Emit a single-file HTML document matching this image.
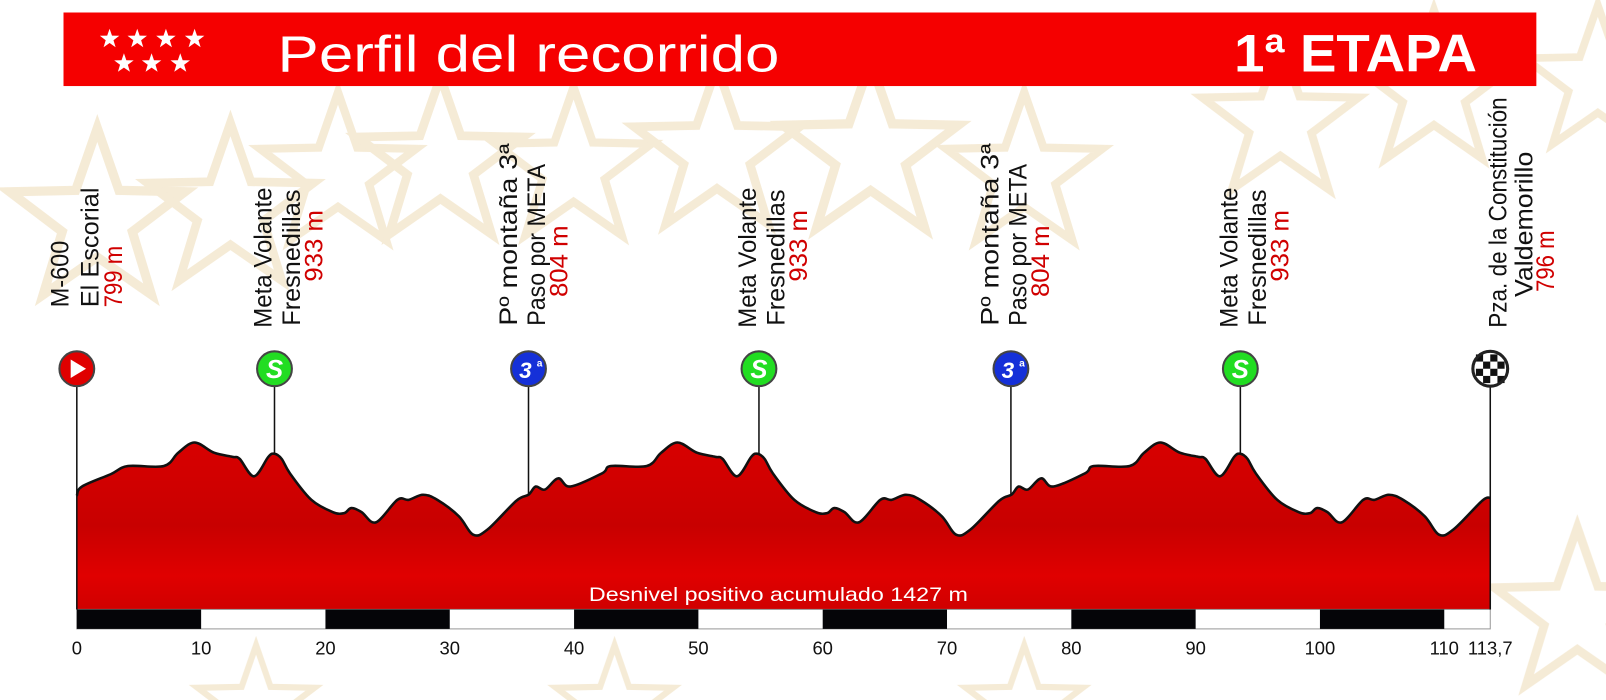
<!DOCTYPE html>
<html><head><meta charset="utf-8"><style>
html,body{margin:0;padding:0;background:#fff;width:1606px;height:700px;overflow:hidden}
svg{display:block;overflow:hidden}
text{font-family:"Liberation Sans",sans-serif}
</style></head><body>
<svg id="s" width="1606" height="700" viewBox="0 0 1568 683.4" xmlns="http://www.w3.org/2000/svg">
<defs>
<linearGradient id="rg" x1="0" y1="0" x2="0" y2="1">
<stop offset="0" stop-color="#d80000"/><stop offset="0.5" stop-color="#c80000"/><stop offset="0.8" stop-color="#e00000"/><stop offset="1" stop-color="#d00000"/>
</linearGradient>
<clipPath id="cp"><rect x="0" y="0" width="1568" height="683"/></clipPath>
<polygon id="st" points="0,-100 23.5,-32.4 95.1,-30.9 38,12.4 58.8,80.9 0,40 -58.8,80.9 -38,12.4 -95.1,-30.9 -23.5,-32.4"/>
<polygon id="ws" points="0,-10 2.35,-3.24 9.51,-3.09 3.8,1.24 5.88,8.09 0,4 -5.88,8.09 -3.8,1.24 -9.51,-3.09 -2.35,-3.24" fill="#fff"/>
</defs>
<g fill="none" stroke="#f2e4c8" stroke-width="10" stroke-linejoin="miter" opacity="0.75" clip-path="url(#cp)">
<use href="#st" transform="translate(95,215) scale(0.9)"/>
<use href="#st" transform="translate(225,205) scale(0.85)"/>
<use href="#st" transform="translate(330,170) scale(0.8)"/>
<use href="#st" transform="translate(430,160) scale(0.85)"/>
<use href="#st" transform="translate(560,165) scale(0.8)"/>
<use href="#st" transform="translate(700,150) scale(0.85)"/>
<use href="#st" transform="translate(850,150) scale(0.9)"/>
<use href="#st" transform="translate(1000,170) scale(0.8)"/>
<use href="#st" transform="translate(1250,120) scale(0.8)"/>
<use href="#st" transform="translate(1400,90) scale(0.8)"/>
<use href="#st" transform="translate(1560,80) scale(0.75)"/>
<use href="#st" transform="translate(1540,600) scale(0.85)"/>
<use href="#st" transform="translate(250,690) scale(0.6)"/>
<use href="#st" transform="translate(600,690) scale(0.6)"/>
<use href="#st" transform="translate(1000,690) scale(0.6)"/>
</g>
<rect x="62" y="12" width="1438" height="72" fill="#f50000"/>
<use href="#ws" transform="translate(107,38)"/><use href="#ws" transform="translate(134,38)"/><use href="#ws" transform="translate(162,38)"/><use href="#ws" transform="translate(190,38)"/>
<use href="#ws" transform="translate(121,62)"/><use href="#ws" transform="translate(148,62)"/><use href="#ws" transform="translate(176,62)"/>
<text x="271" y="70" font-size="50" fill="#fff" textLength="490" lengthAdjust="spacingAndGlyphs">Perfil del recorrido</text>
<text x="1205" y="70" font-size="52" font-weight="bold" fill="#fff" textLength="237" lengthAdjust="spacingAndGlyphs">1ª ETAPA</text>
<path id="prof" fill="url(#rg)" stroke="none"/>
<path id="profl" fill="none" stroke="#111" stroke-width="2.5" stroke-linejoin="round"/>
<text x="760" y="587" font-size="19" fill="#fff" text-anchor="middle" textLength="370" lengthAdjust="spacingAndGlyphs">Desnivel positivo acumulado 1427 m</text>
<g id="bar"></g>
<g id="marks"></g>
<g id="labels"></g>
</svg>
<script>
var NS="http://www.w3.org/2000/svg";
function el(t,a,p,txt){var e=document.createElementNS(NS,t);for(var k in a)e.setAttribute(k,a[k]);if(txt)e.textContent=txt;(p||document.getElementById('s')).appendChild(e);return e;}
var start=[[75,484],[80,475],[108,463]];
var G=[[44.5,483],[51.5,475],[60.5,478],[73.5,467],[85.5,475],[116.5,462],[125,455],[160,455],[174,442],[190,432],[209,442],[227,446],[234,448],[248,465],[262,446],[268,443],[275,448],[283,462],[304,488],[325,500],[336,501],[343,496],[353,500],[367,510],[388,488],[399,488],[413,483],[427,488],[448,504],[462,522],[476,517],[504,489]];
var pts=start.slice();
G.forEach(function(p){if(p[0]>=125)pts.push(p);});
[471.5,943].forEach(function(o){G.forEach(function(p){var x=p[0]+o;if(x<1455)pts.push([x,p[1]]);});});
pts.push([1455,486]);
function f(v){return v.toFixed(1);}
var d="M"+f(pts[0][0])+","+pts[0][1];
for(var i=0;i<pts.length-1;i++){var p0=pts[Math.max(0,i-1)],p1=pts[i],p2=pts[i+1],p3=pts[Math.min(pts.length-1,i+2)];
 var c1x=p1[0]+(p2[0]-p0[0])/6,c1y=p1[1]+(p2[1]-p0[1])/6,c2x=p2[0]-(p3[0]-p1[0])/6,c2y=p2[1]-(p3[1]-p1[1])/6;
 d+=" C"+f(c1x)+","+f(c1y)+" "+f(c2x)+","+f(c2y)+" "+f(p2[0])+","+p2[1];}
document.getElementById('profl').setAttribute('d',d);
document.getElementById('prof').setAttribute('d',"M75,595 L"+d.slice(1)+" L1455,595 Z");
var bar=document.getElementById('bar');
var k=(1455-75)/113.7;
el('rect',{x:75,y:595,width:1380,height:19,fill:'#fff',stroke:'#999','stroke-width':1},bar);
for(var i=0;i<12;i++){var x0=75+i*10*k,x1=Math.min(1455,75+(i+1)*10*k);if(i%2==0)el('rect',{x:x0,y:595,width:x1-x0,height:19,fill:'#050508'},bar);}
for(var i=0;i<=11;i++)el('text',{x:75+i*10*k,y:639,'font-size':18,'text-anchor':'middle',fill:'#111'},bar,String(i*10));
el('text',{x:1455,y:639,'font-size':18,'text-anchor':'middle',fill:'#111'},bar,"113,7");
var m=document.getElementById('marks');
var M=[[75,'start'],[268,'S'],[516,'3'],[741,'S'],[987,'3'],[1211,'S'],[1455,'fin']];
function yat(x){for(var i=1;i<pts.length;i++){if(pts[i][0]>=x){var a=pts[i-1],b=pts[i];return a[1]+(b[1]-a[1])*(x-a[0])/(b[0]-a[0]||1);}}return 486;}
M.forEach(function(q){var x=q[0],t=q[1];
 el('line',{x1:x,y1:377,x2:x,y2:(t=='start'?595:t=='fin'?595:yat(x)),stroke:'#111','stroke-width':1.5},m);
 var c=t=='start'?'#e00000':t=='S'?'#22dd22':t=='3'?'#1530d8':'#fff';
 el('circle',{cx:x,cy:360,r:17,fill:c,stroke:'#444','stroke-width':2},m);
 if(t=='start')el('polygon',{points:(x-6)+",351 "+(x-6)+",369 "+(x+9)+",360",fill:'#fff'},m);
 if(t=='S')el('text',{x:x,y:369,'font-size':25,'font-weight':'bold','font-style':'italic','text-anchor':'middle',fill:'#fff'},m,'S');
 if(t=='3'){el('text',{x:x-3,y:369,'font-size':22,'font-weight':'bold','font-style':'italic','text-anchor':'middle',fill:'#fff'},m,'3');el('text',{x:x+8,y:358,'font-size':10,'font-weight':'bold',fill:'#fff'},m,'a');}
 if(t=='fin'){for(var i=-2;i<2;i++)for(var j=-2;j<2;j++)if((i+j)%2==0)el('rect',{x:x+i*7,y:360+j*7,width:7,height:7,fill:'#111'},m);el('circle',{cx:x,cy:360,r:17,fill:'none',stroke:'#222','stroke-width':3},m);}
});
var L=[[58,300,235,'M-600'],[87,300,183,'El Escorial'],[110,300,240,'799 m',1]];
function S3(c){return [[c,320,183,'Meta Volante'],[c+28,318,185,'Fresnedillas'],[c+50,275,205,'933 m',1]];}
function C3(c){return [[c,318,140,'Pº montaña 3ª'],[c+27,318,160,'Paso por META'],[c+49,290,220,'804 m',1]];}
L=L.concat(S3(256),C3(496),S3(729),C3(966),S3(1199));
L.push([1462,320,95,'Pza. de la Constitución'],[1487,290,148,'Valdemorillo'],[1508,285,225,'796 m',1]);
var lg=document.getElementById('labels');
L.forEach(function(q){var bx=q[0]+9;
 el('text',{transform:'translate('+bx+','+q[1]+') rotate(-90)','font-size':24,fill:q[4]?'#d00000':'#111',textLength:q[1]-q[2],lengthAdjust:'spacingAndGlyphs'},lg,q[3]);});
</script>
</body></html>
